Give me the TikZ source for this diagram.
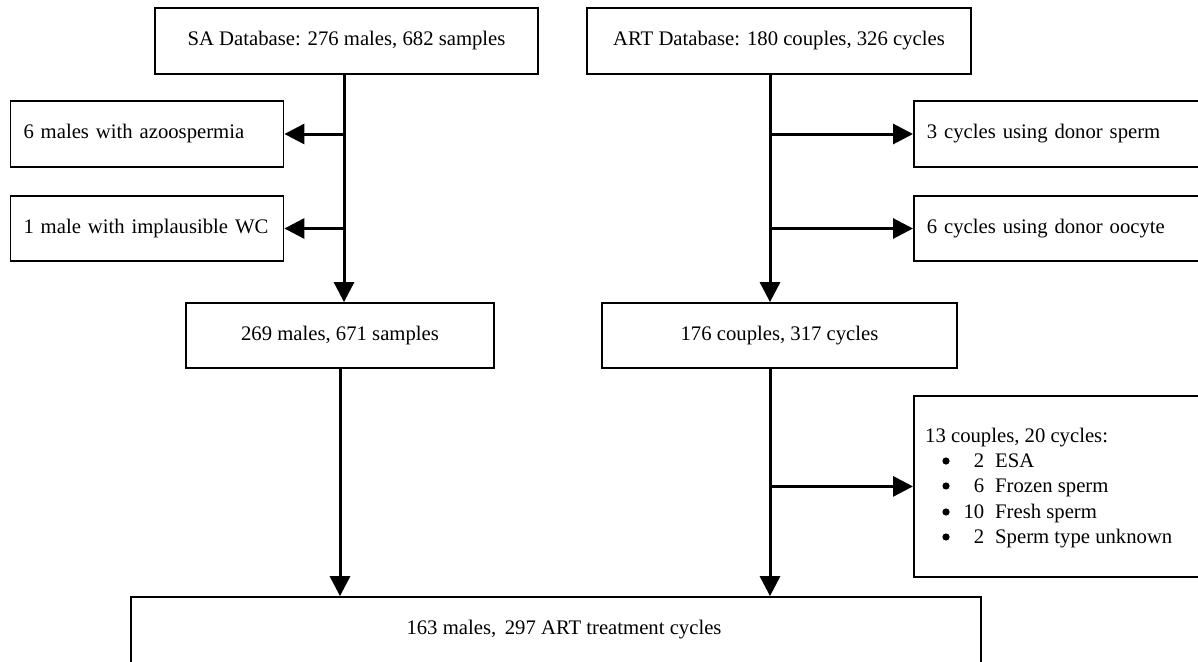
\documentclass[tikz,border=0pt]{standalone}
\usepackage{fontspec}
\setmainfont{Liberation Serif}
\usetikzlibrary{arrows.meta}
\begin{document}
\begin{tikzpicture}[x=1pt,y=-1pt,
  box/.style={draw=black, line width=1.8pt, fill=white, inner sep=0pt, font=\fontsize{20.7}{25}\selectfont},
  lbox/.style={box, align=left, inner xsep=13pt},
  txt/.style={inner sep=0pt, font=\fontsize{20.7}{25}\selectfont},
  dot/.style={fill=black},
  flow/.style={line width=3pt, -{Triangle[length=20pt,width=20pt]}}]
\clip (0,0) rectangle (1198,661);
\fill[white] (0,0) rectangle (1198,661);
% boxes
\node[box, minimum width=383pt, minimum height=66pt] (sa) at (346.5,41) {SA Database: 276 males, 682 samples};
\node[box, minimum width=384pt, minimum height=66pt] (art) at (779,41) {ART Database: 180 couples, 326 cycles};
\node[lbox, text width=247pt, minimum height=66pt] (azoo) at (147,134) {6 males with azoospermia};
\node[lbox, text width=247pt, minimum height=65pt] (wc) at (147,228.5) {1 male with implausible WC};
\node[box, minimum width=308pt, minimum height=65pt] (n269) at (340,335.5) {269 males, 671 samples};
\node[box, minimum width=355pt, minimum height=65pt] (n176) at (779.5,335.5) {176 couples, 317 cycles};
\node[lbox, text width=283pt, minimum height=66pt, anchor=west] (dsp) at (913,134) {3 cycles using donor sperm};
\node[lbox, text width=283pt, minimum height=65pt, anchor=west] (doo) at (913,228.5) {6 cycles using donor oocyte};
\node[box, minimum width=309pt, minimum height=181pt, anchor=north west] (n13) at (913,395) {};
\node[box, minimum width=850pt, minimum height=93pt] (bot) at (556,643.5) {};
% texts of the list box and bottom box
\node[txt, anchor=base west] (l0) at (925,442) {13 couples, 20 cycles:};
\node[txt, anchor=base west] (l1) at (950,467) {\makebox[34pt][r]{2}\hspace{11pt}ESA};
\node[txt, anchor=base west] (l2) at (950,492) {\makebox[34pt][r]{6}\hspace{11pt}Frozen sperm};
\node[txt, anchor=base west] (l3) at (950,518) {\makebox[34pt][r]{10}\hspace{11pt}Fresh sperm};
\node[txt, anchor=base west] (l4) at (950,543) {\makebox[34pt][r]{2}\hspace{11pt}Sperm type unknown};
\fill[dot] (946,461) circle (3.6pt);
\fill[dot] (946,486) circle (3.6pt);
\fill[dot] (946,512) circle (3.6pt);
\fill[dot] (946,537) circle (3.6pt);
\node[txt] (bottxt) at (564,630) {163 males,\, 297 ART treatment cycles};
% trunks
\coordinate (xL) at (344,0);
\coordinate (xR) at (770,0);
\draw[flow] (sa.south -| xL) -- (n269.north -| xL);
\draw[flow] (azoo.east -| xL) -- (azoo.east);
\draw[flow] (wc.east -| xL) -- (wc.east);
\draw[flow] (n269.south) -- (n269.south |- bot.north);
\draw[flow] (art.south -| xR) -- (n176.north -| xR);
\draw[flow] (dsp.west -| xR) -- (dsp.west);
\draw[flow] (doo.west -| xR) -- (doo.west);
\draw[flow] (n176.south -| xR) -- (bot.north -| xR);
\draw[flow] (n13.west -| xR) -- (n13.west);
\end{tikzpicture}
\end{document}
